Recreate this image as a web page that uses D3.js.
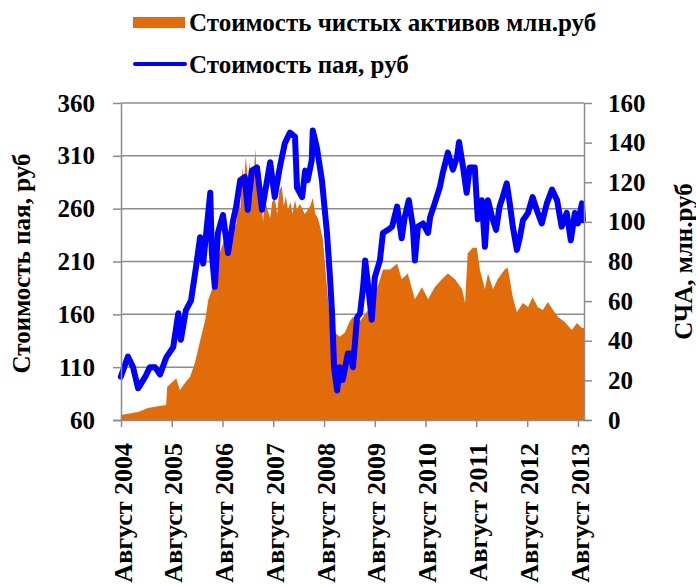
<!DOCTYPE html>
<html>
<head>
<meta charset="utf-8">
<script src="https://cdn.jsdelivr.net/npm/d3@7"></script>
<style>
  html, body { margin: 0; padding: 0; background: #fff; }
  svg { display: block; font-family: "Liberation Serif", "Times New Roman", serif; font-weight: bold; }
</style>
</head>
<body>
<svg id="chart" width="696" height="585"></svg>
<script>
// ---- Data (decimal years) ----
const navYears = [2004.58,2004.72,2004.82,2004.92,2005.06,2005.15,2005.25,2005.35,2005.47,2005.61,2005.71,2005.76,2005.86,2005.96,2006.06,2006.14,2006.20,2006.26,2006.34,2006.37,2006.43,2006.49,2006.59,2006.69,2006.79,2006.85,2006.93,2007.02,2007.08,2007.16,2007.26,2007.36,2007.46,2007.52,2007.61,2007.71,2007.81,2007.91,2008.01,2008.05,2008.15,2008.21,2008.26,2008.34,2008.36,2008.44,2008.54,2008.64,2008.70,2008.74,2008.78,2008.84,2008.89,2008.95,2009.05,2009.09,2009.15,2009.23,2009.29,2009.35,2009.39,2009.45,2009.52,2009.58,2009.68,2009.74,2009.84,2009.92,2010.02,2010.11,2010.17,2010.25,2010.33,2010.37,2010.43,2010.53,2010.63,2010.67,2010.76,2010.86,2010.92,2011.02,2011.12,2011.20,2011.24,2011.32,2011.39,2011.45,2011.49,2011.55,2011.61,2011.69,2011.75,2011.81,2011.89,2011.97,2012.04,2012.10,2012.18,2012.24,2012.30,2012.38,2012.44,2012.50,2012.60,2012.69,2012.77,2012.87,2012.97,2013.07,2013.17,2013.26,2013.36,2013.44,2013.52,2013.58,2013.66,2013.68];
const navValues = [101,120,110,90,101,110,110,103,119,129,161,136,164,173,205,233,208,237,275,218,186,237,254,218,249,262,287,290,259,296,299,259,287,304,271,299,322,332,328,280,271,296,287,306,334,318,287,237,195,161,110,88,110,98,123,123,110,157,161,186,211,186,155,195,211,237,240,243,262,232,252,268,243,211,243,246,237,252,265,280,294,313,297,309,323,299,275,299,299,299,250,268,224,268,252,240,262,271,284,265,243,221,233,249,256,271,259,246,265,278,268,243,256,230,256,246,265,249];

const assetYears = [2004.58,2004.92,2005.11,2005.31,2005.47,2005.49,2005.57,2005.67,2005.74,2005.84,2005.94,2006.04,2006.14,2006.24,2006.30,2006.39,2006.49,2006.63,2006.75,2006.85,2006.90,2006.93,2006.97,2007.00,2007.04,2007.08,2007.12,2007.16,2007.20,2007.23,2007.26,2007.30,2007.34,2007.38,2007.42,2007.47,2007.52,2007.56,2007.61,2007.66,2007.70,2007.75,2007.79,2007.83,2007.87,2007.92,2007.96,2008.01,2008.05,2008.10,2008.15,2008.20,2008.26,2008.31,2008.36,2008.41,2008.46,2008.51,2008.56,2008.64,2008.70,2008.80,2008.89,2008.99,2009.09,2009.15,2009.29,2009.49,2009.62,2009.74,2009.88,2010.02,2010.11,2010.23,2010.37,2010.51,2010.63,2010.76,2010.90,2011.02,2011.16,2011.30,2011.36,2011.41,2011.51,2011.59,2011.65,2011.75,2011.81,2011.91,2012.00,2012.14,2012.20,2012.30,2012.38,2012.50,2012.60,2012.69,2012.79,2012.89,2012.99,2013.09,2013.19,2013.32,2013.46,2013.56,2013.66,2013.70];
const assetValues = [2.5,4,6,7,7.6,16.7,18.7,21,15,18.7,21.7,29,40,50.5,60.6,67,82,92,94,99,120,105,128,118,133,122,130,110,125,137,118,108,115,100,111,106,102,110,112,104,116,118,108,113,106,110,104,111,106,109,107,104,106,108,112,104,102,97,91,67,50,44,42,44,50,52,50,57,66,76,76,79,71,74,61,67,61,67,71,74,71,66,59,84,87,87,76,66,74,66,71,76,77,62,54.5,59,57,62,57,55.5,59.6,55.5,52,49.5,45.4,49,46.4,46.4];

const tickYears = [2004,2005,2006,2007,2008,2009,2010,2011,2012,2013];
const tickLabels = tickYears.map(y => "Август " + y);
const leftTicks = [60,110,160,210,260,310,360];
const rightTicks = [0,20,40,60,80,100,120,140,160];
const seriesNames = ["Стоимость чистых активов млн.руб", "Стоимость пая, руб"];
const leftTitle = "Стоимость пая, руб";
const rightTitle = "СЧА, млн.руб";

// ---- Helpers ----
function decYearToDate(d) {
  const y = Math.floor(d);
  const start = new Date(y, 0, 1).getTime();
  return new Date(start + (d - y) * 365.25 * 86400000);
}

const FONT = "Liberation Serif, Times New Roman, serif";
const FS = 25;
const svg = d3.select("#chart");
const L = 121, R = 584, T = 103, B = 420;
const gridColor = "#8c8c8c";
const orange = "#E36C0A";
const blue = "#0000FF";

const x = d3.scaleTime()
  .domain([new Date(2004, 7, 1), decYearToDate(2013.70)])
  .range([L, R]);
const yL = d3.scaleLinear().domain([60, 360]).range([B, T]);
const yR = d3.scaleLinear().domain([0, 160]).range([B, T]);

// Gridlines
svg.append("g").selectAll("line").data(leftTicks).join("line")
  .attr("x1", L).attr("x2", R)
  .attr("y1", d => yL(d)).attr("y2", d => yL(d))
  .attr("stroke", gridColor).attr("stroke-width", 1.5);

// Area
const assetData = assetYears.map((y, i) => ({ date: decYearToDate(y), v: assetValues[i] }));
svg.append("path").datum(assetData)
  .attr("fill", orange)
  .attr("d", d3.area().x(d => x(d.date)).y0(yR(0)).y1(d => yR(d.v)));

// Line
const navData = navYears.map((y, i) => ({ date: decYearToDate(y), v: navValues[i] }));
svg.append("path").datum(navData)
  .attr("fill", "none").attr("stroke", blue).attr("stroke-width", 6)
  .attr("stroke-linejoin", "round").attr("stroke-linecap", "round")
  .attr("d", d3.line().x(d => x(d.date)).y(d => yL(d.v)));

// Axes
const tickDates = tickYears.map(y => new Date(y, 7, 1));
const gx = svg.append("g").attr("transform", `translate(0,${B})`)
  .call(d3.axisBottom(x).tickValues(tickDates).tickSize(7).tickSizeOuter(0).tickFormat((d, i) => tickLabels[i]));
gx.select(".domain").attr("stroke", gridColor).attr("stroke-width", 1.5)
  .attr("d", `M${L - 8},0.5H${R + 7}`);
gx.selectAll(".tick line").attr("stroke", gridColor).attr("stroke-width", 1.5);
gx.selectAll(".tick text")
  .attr("transform", "rotate(-90)")
  .attr("text-anchor", "end")
  .attr("x", -23).attr("y", 1).attr("dy", "0.35em")
  .attr("font-family", FONT)
  .attr("font-weight", "bold").attr("font-size", 26).attr("fill", "#000");

const gl = svg.append("g").attr("transform", `translate(${L},0)`)
  .call(d3.axisLeft(yL).tickValues(leftTicks).tickSize(8).tickSizeOuter(0).tickPadding(18));
gl.select(".domain").attr("stroke", gridColor).attr("stroke-width", 1.5);
gl.selectAll(".tick line").attr("stroke", gridColor).attr("stroke-width", 1.5);
gl.selectAll(".tick text")
  .attr("font-family", FONT)
  .attr("font-weight", "bold").attr("font-size", FS).attr("fill", "#000");

const gr = svg.append("g").attr("transform", `translate(${R},0)`)
  .call(d3.axisRight(yR).tickValues(rightTicks).tickSize(8).tickSizeOuter(0).tickPadding(16));
gr.select(".domain").attr("stroke", gridColor).attr("stroke-width", 1.5);
gr.selectAll(".tick line").attr("stroke", gridColor).attr("stroke-width", 1.5);
gr.selectAll(".tick text")
  .attr("font-family", FONT)
  .attr("font-weight", "bold").attr("font-size", FS).attr("fill", "#000");

// Axis titles
svg.append("text")
  .attr("transform", `translate(30,${(T + B) / 2 + 2}) rotate(-90)`)
  .attr("text-anchor", "middle").attr("font-size", FS).text(leftTitle);
svg.append("text")
  .attr("transform", `translate(692,${(T + B) / 2}) rotate(-90)`)
  .attr("text-anchor", "middle").attr("font-size", FS).text(rightTitle);

// Legend
const lg = svg.append("g");
lg.append("rect").attr("x", 133).attr("y", 17).attr("width", 52).attr("height", 11).attr("fill", orange);
lg.append("text").attr("x", 189).attr("y", 31).attr("font-size", FS).text(seriesNames[0]);
lg.append("line").attr("x1", 135).attr("x2", 185).attr("y1", 64).attr("y2", 64)
  .attr("stroke", blue).attr("stroke-width", 4).attr("stroke-linecap", "round");
lg.append("text").attr("x", 189).attr("y", 73).attr("font-size", FS).text(seriesNames[1]);
</script>
</body>
</html>
